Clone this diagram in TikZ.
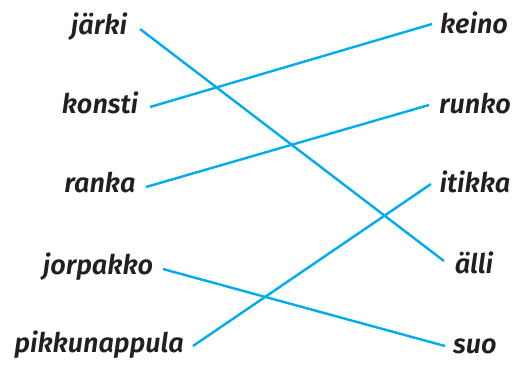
\documentclass[tikz,border=0pt]{standalone}
\usepackage{fontspec}
\setmainfont{Fira Sans}[BoldItalicFont={* SemiBold Italic}]
\definecolor{linecyan}{RGB}{0,172,236}
\definecolor{wordgray}{RGB}{35,31,32}
\begin{document}
\begin{tikzpicture}[x=1pt,y=-1pt,
  word/.style={font=\fontsize{27}{32}\selectfont\bfseries\itshape, text=wordgray, anchor=base, inner xsep=0pt, inner ysep=0pt},
  link/.style={draw=linecyan, line width=2.4pt}]
\useasboundingbox (0,0) rectangle (527,365);
% left words
\node[word] (jarki) at (99,34) {järki};
\node[word] (konsti) at (100,113) {konsti};
\node[word] (ranka) at (100,192) {ranka};
\node[word] (jorpakko) at (98,274) {jorpakko};
\node[word] (pikku) at (99,352) {pikkunappula};
% right words
\node[word] (keino) at (474,33) {keino};
\node[word] (runko) at (475,113) {runko};
\node[word] (itikka) at (475,192) {itikka};
\node[word] (alli) at (474,273) {älli};
\node[word] (suo) at (475,353) {suo};
% line ends
\coordinate (jarkiE) at (140,29);
\coordinate (konstiE) at (150,107);
\coordinate (rankaE) at (146,187);
\coordinate (jorpakkoE) at (163,269);
\coordinate (pikkuE) at (193,346);
\coordinate (keinoW) at (432,24);
\coordinate (runkoW) at (429,105);
\coordinate (itikkaW) at (431,184);
\coordinate (alliW) at (444,261);
\coordinate (suoW) at (445,346);
\draw[link] (jarkiE) -- (alliW);
\draw[link] (konstiE) -- (keinoW);
\draw[link] (rankaE) -- (runkoW);
\draw[link] (jorpakkoE) -- (suoW);
\draw[link] (pikkuE) -- (itikkaW);
\end{tikzpicture}
\end{document}
